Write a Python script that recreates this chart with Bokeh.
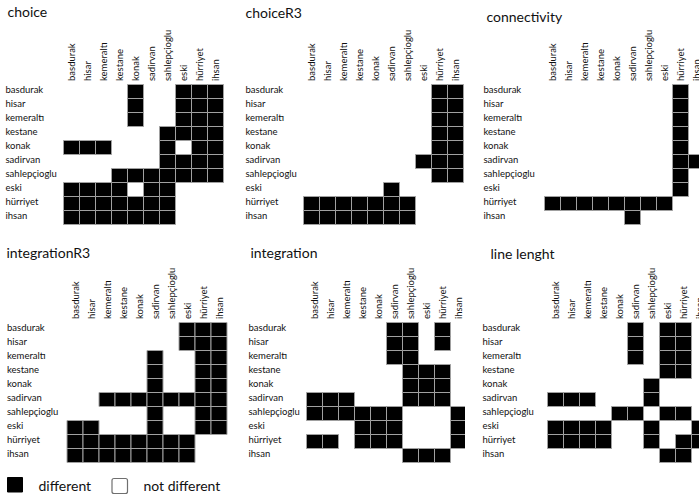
import math
from bokeh.plotting import figure
from bokeh.layouts import column, row
from bokeh.models import ColumnDataSource, Range1d
from bokeh.core.properties import value
from bokeh.embed import file_html
from bokeh.resources import INLINE

places = ["basdurak", "hisar", "kemeraltı", "kestane", "konak", "sadirvan",
          "sahlepçioglu", "eski", "hürriyet", "ihsan"]

choice = [
    [0, 0, 0, 0, 1, 0, 0, 1, 1, 1],
    [0, 0, 0, 0, 1, 0, 0, 1, 1, 1],
    [0, 0, 0, 0, 1, 0, 0, 1, 1, 1],
    [0, 0, 0, 0, 0, 0, 1, 1, 1, 1],
    [1, 1, 1, 0, 0, 0, 1, 0, 1, 1],
    [0, 0, 0, 0, 0, 0, 1, 1, 1, 1],
    [0, 0, 0, 1, 1, 1, 1, 1, 1, 1],
    [1, 1, 1, 1, 0, 1, 1, 0, 0, 0],
    [1, 1, 1, 1, 1, 1, 1, 0, 0, 0],
    [1, 1, 1, 1, 1, 1, 1, 0, 0, 0],
]
choiceR3 = [
    [0, 0, 0, 0, 0, 0, 0, 0, 1, 1],
    [0, 0, 0, 0, 0, 0, 0, 0, 1, 1],
    [0, 0, 0, 0, 0, 0, 0, 0, 1, 1],
    [0, 0, 0, 0, 0, 0, 0, 0, 1, 1],
    [0, 0, 0, 0, 0, 0, 0, 0, 1, 1],
    [0, 0, 0, 0, 0, 0, 0, 1, 1, 1],
    [0, 0, 0, 0, 0, 0, 0, 0, 1, 1],
    [0, 0, 0, 0, 0, 1, 0, 0, 0, 0],
    [1, 1, 1, 1, 1, 1, 1, 0, 0, 0],
    [1, 1, 1, 1, 1, 1, 1, 0, 0, 0],
]
connectivity = [
    [0, 0, 0, 0, 0, 0, 0, 0, 1, 0],
    [0, 0, 0, 0, 0, 0, 0, 0, 1, 0],
    [0, 0, 0, 0, 0, 0, 0, 0, 1, 0],
    [0, 0, 0, 0, 0, 0, 0, 0, 1, 0],
    [0, 0, 0, 0, 0, 0, 0, 0, 1, 0],
    [0, 0, 0, 0, 0, 0, 0, 0, 1, 1],
    [0, 0, 0, 0, 0, 0, 0, 0, 1, 0],
    [0, 0, 0, 0, 0, 0, 0, 0, 1, 0],
    [1, 1, 1, 1, 1, 1, 1, 1, 0, 0],
    [0, 0, 0, 0, 0, 1, 0, 0, 0, 0],
]
integrationR3 = [
    [0, 0, 0, 0, 0, 0, 0, 1, 1, 1],
    [0, 0, 0, 0, 0, 0, 0, 1, 1, 1],
    [0, 0, 0, 0, 0, 1, 0, 0, 1, 1],
    [0, 0, 0, 0, 0, 1, 0, 0, 1, 1],
    [0, 0, 0, 0, 0, 1, 0, 0, 1, 1],
    [0, 0, 1, 1, 1, 1, 1, 1, 1, 1],
    [0, 0, 0, 0, 0, 1, 0, 0, 1, 1],
    [1, 1, 0, 0, 0, 1, 0, 0, 1, 1],
    [1, 1, 1, 1, 1, 1, 1, 1, 0, 0],
    [1, 1, 1, 1, 1, 1, 1, 1, 0, 0],
]
integration = [
    [0, 0, 0, 0, 0, 1, 1, 0, 1, 0],
    [0, 0, 0, 0, 0, 1, 1, 0, 1, 0],
    [0, 0, 0, 0, 0, 1, 1, 0, 0, 0],
    [0, 0, 0, 0, 0, 0, 1, 1, 1, 0],
    [0, 0, 0, 0, 0, 0, 1, 1, 1, 0],
    [1, 1, 1, 0, 0, 0, 1, 1, 1, 0],
    [1, 1, 1, 1, 1, 1, 0, 0, 0, 1],
    [0, 0, 0, 1, 1, 1, 0, 0, 0, 1],
    [1, 1, 0, 1, 1, 1, 0, 0, 0, 1],
    [0, 0, 0, 0, 0, 0, 1, 1, 1, 0],
]
line_lenght = [
    [0, 0, 0, 0, 0, 1, 0, 1, 1, 0],
    [0, 0, 0, 0, 0, 1, 0, 1, 1, 0],
    [0, 0, 0, 0, 0, 1, 0, 1, 1, 0],
    [0, 0, 0, 0, 0, 0, 0, 1, 1, 0],
    [0, 0, 0, 0, 0, 0, 1, 0, 0, 0],
    [1, 1, 1, 0, 0, 0, 1, 0, 0, 0],
    [0, 0, 0, 0, 1, 1, 0, 1, 1, 0],
    [1, 1, 1, 1, 0, 0, 1, 0, 0, 1],
    [1, 1, 1, 1, 0, 0, 1, 0, 1, 1],
    [0, 0, 0, 0, 0, 0, 0, 1, 1, 0],
]

legend_labels = ["different", "not different"]

FONT = value("Lato")
CW, CH = 16, 14


def make_panel(mat, title, X0, Y0, W, H, gx0, gy0, tx, tmy, lx):
    ux = lambda px: (px - gx0) / CW
    uy = lambda py: (py - gy0) / CH
    p = figure(width=W, height=H,
               x_range=Range1d(ux(X0), ux(X0 + W)),
               y_range=Range1d(uy(Y0 + H), uy(Y0)),
               output_backend="svg", toolbar_location=None,
               x_axis_type=None, y_axis_type=None, min_border=0)
    p.outline_line_color = None
    p.background_fill_color = "white"
    p.border_fill_color = "white"

    on = {"x": [], "y": []}
    off = {"x": [], "y": []}
    for r, vals in enumerate(mat):
        for c, v in enumerate(vals):
            d = on if v else off
            d["x"].append(c + 0.5)
            d["y"].append(r + 0.5)
    p.rect(x="x", y="y", width=1, height=1, source=ColumnDataSource(off),
           fill_color="white", line_color=None)
    p.rect(x="x", y="y", width=1, height=1, source=ColumnDataSource(on),
           fill_color="black", line_color="#a0a0a0", line_width=1)

    n = len(places)
    p.text(x=[ux(lx)] * n, y=[i + 0.33 for i in range(n)], text=places,
           text_align="left", text_baseline="middle",
           text_font=FONT, text_font_size="9.5px", text_color="#111111")
    p.text(x=[i + 0.5 for i in range(n)], y=[uy(gy0 - 3.5)] * n, text=places,
           angle=math.pi / 2, text_align="left", text_baseline="middle",
           text_font=FONT, text_font_size="9.5px", text_color="#111111")
    p.text(x=[ux(tx)], y=[uy(tmy)], text=[title], text_align="left",
           text_baseline="middle", text_font=FONT,
           text_font_size="14px", text_color="#111111")
    return p


p1 = make_panel(choice, "choice", 0, 0, 230, 240, 63, 84, 7, 11, 5)
p2 = make_panel(choiceR3, "choiceR3", 230, 0, 235, 240, 303, 84, 245, 11.5, 245)
p3 = make_panel(connectivity, "connectivity", 465, 0, 234, 240, 544, 84, 486, 15.5, 483)
p4 = make_panel(integrationR3, "integrationR3", 0, 240, 230, 225, 66.5, 322, 6, 252, 6.5)
p5 = make_panel(integration, "integration", 230, 240, 235, 225, 306, 322, 250, 252, 248)
p6 = make_panel(line_lenght, "line lenght", 465, 240, 234, 225, 547, 322, 490, 253, 482)

# legend strip
lg = figure(width=699, height=33, x_range=Range1d(0, 699), y_range=Range1d(498, 465),
            output_backend="svg", toolbar_location=None,
            x_axis_type=None, y_axis_type=None, min_border=0)
lg.outline_line_color = None
lg.quad(left=[7], right=[22], top=[477], bottom=[491.5], fill_color="black",
        line_color="black")
lg.quad(left=[111.5], right=[127], top=[478], bottom=[493], fill_color="white",
        line_color="#6f6f6f", line_width=1.2, border_radius=2)
lg.text(x=[38, 143], y=[485, 485], text=legend_labels, text_align="left",
        text_baseline="middle", text_font=FONT, text_font_size="14px",
        text_color="#111111")

layout = column(row(p1, p2, p3), row(p4, p5, p6), lg)

open("out.html", "w").write(file_html(layout, INLINE))
